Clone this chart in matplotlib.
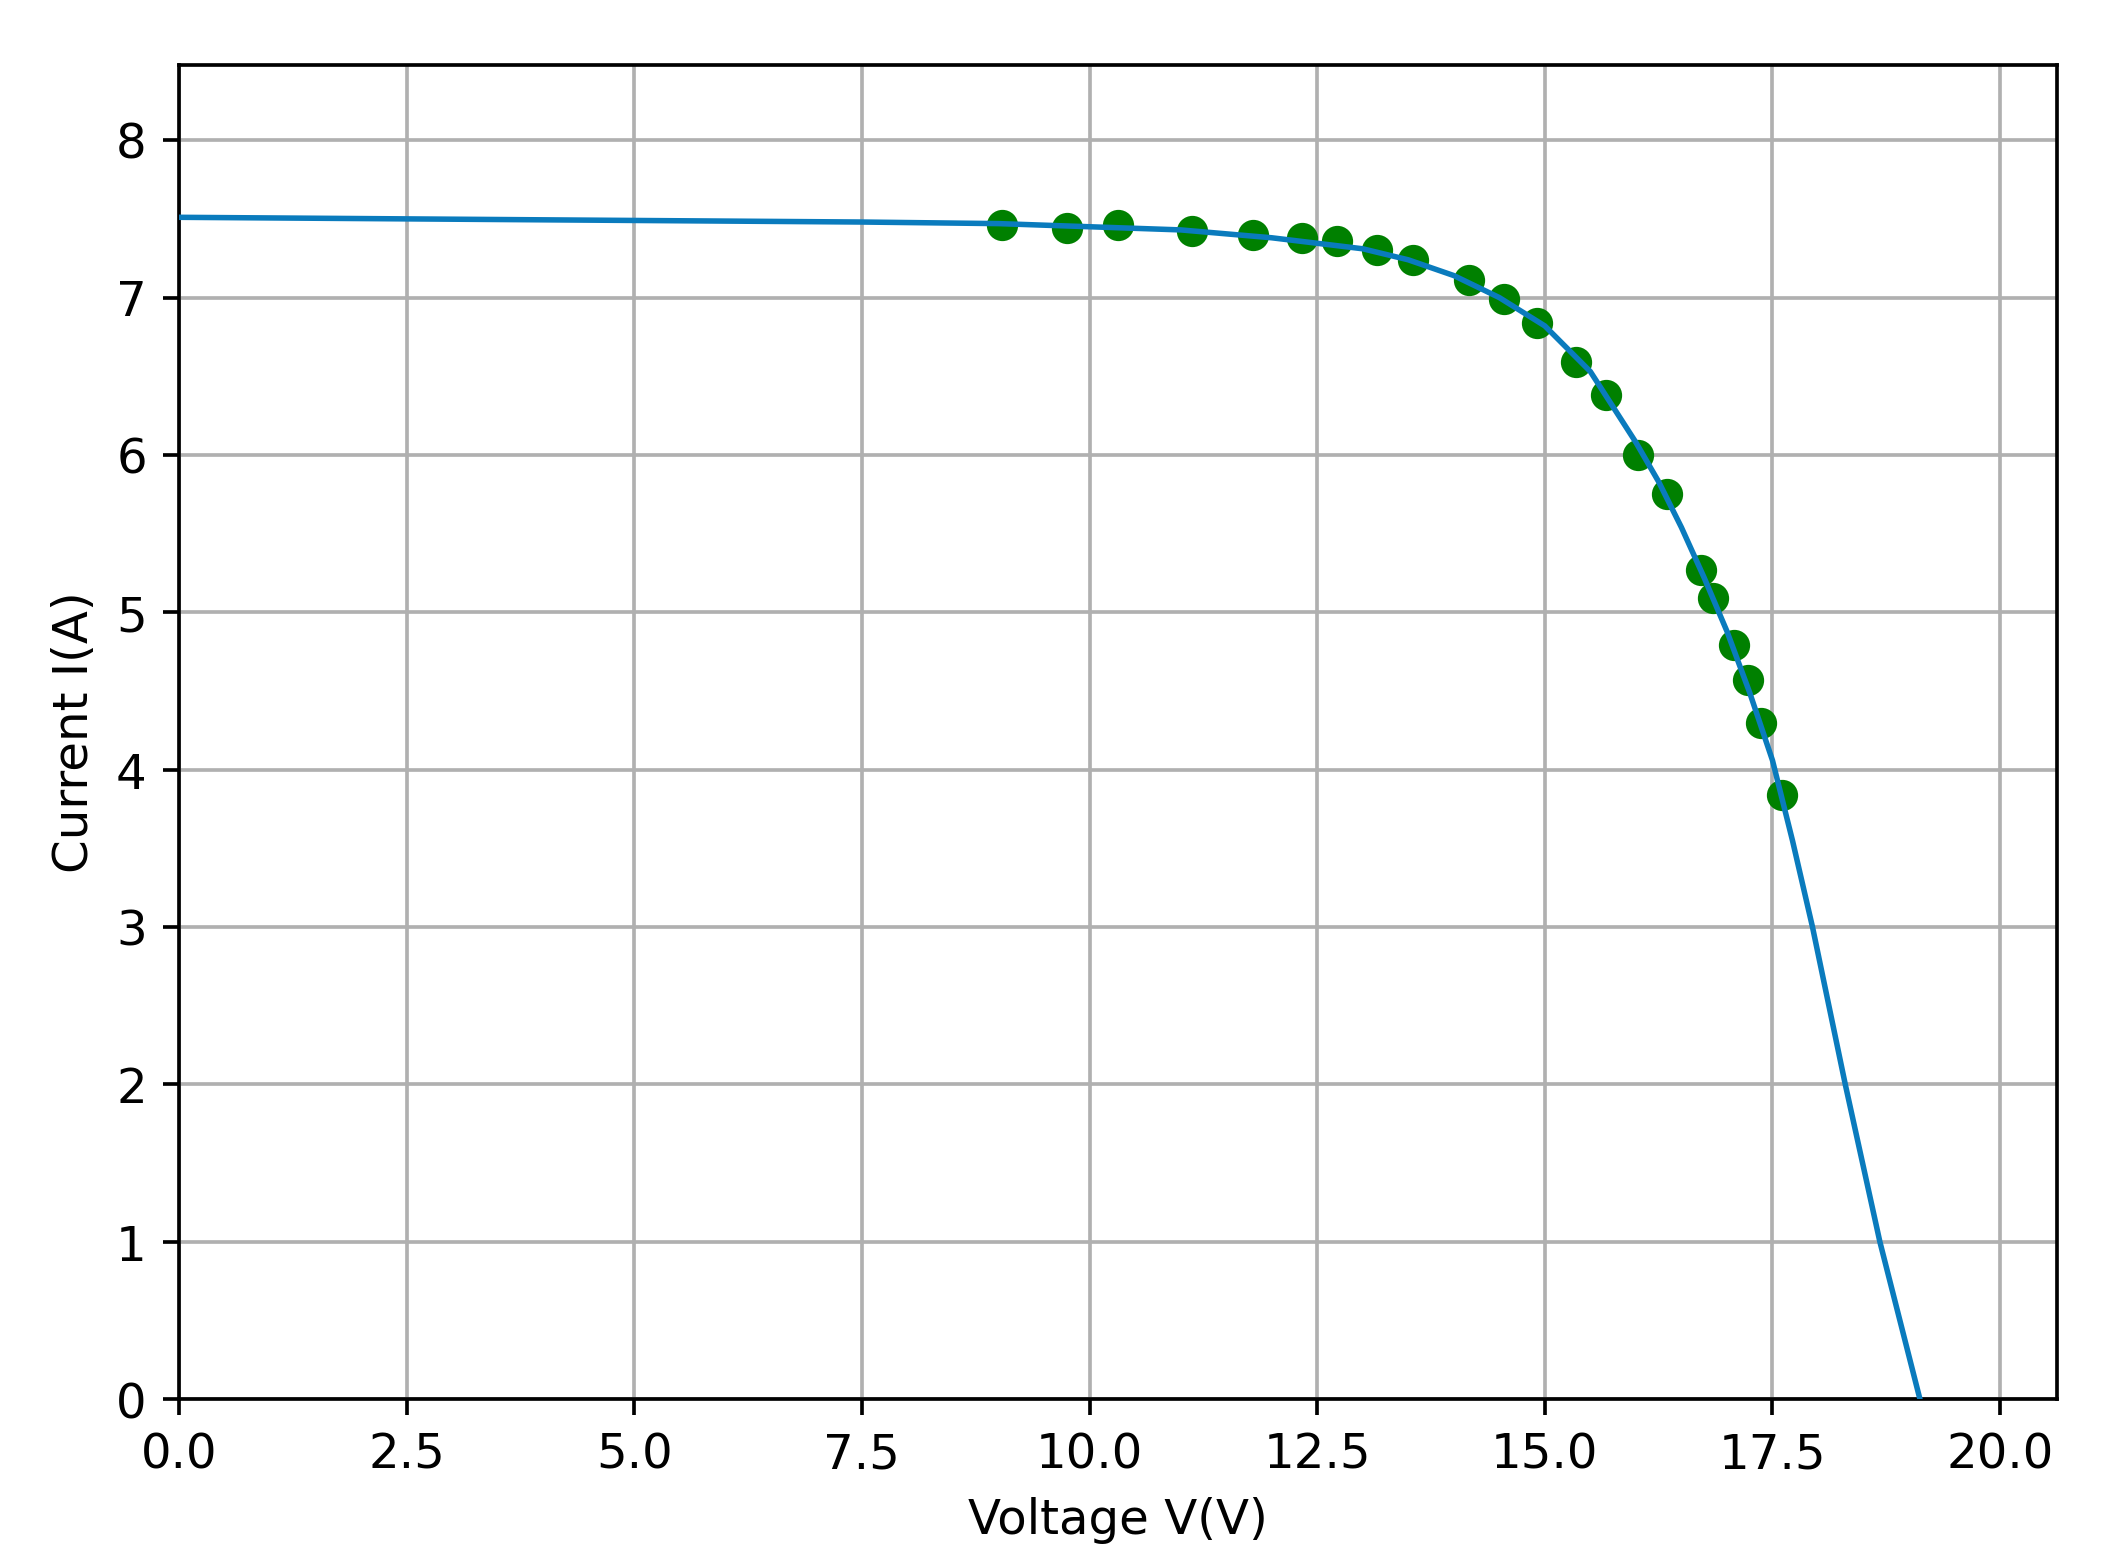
import matplotlib
matplotlib.use("Agg")
import matplotlib.pyplot as plt

# fitted I-V curve
curve_v = [0.0, 2.5, 5.0, 7.5, 9.0, 10.0, 11.0, 12.0, 13.0, 13.5, 14.0, 14.5, 15.0,
           15.5, 16.0, 16.25, 16.5, 16.75, 17.0, 17.25, 17.5, 17.72, 17.94, 18.3, 18.68, 19.12]
curve_i = [7.51, 7.50, 7.49, 7.48, 7.47, 7.45, 7.43, 7.38, 7.31, 7.24, 7.14, 7.00, 6.82,
           6.53, 6.08, 5.83, 5.54, 5.22, 4.88, 4.49, 4.06, 3.55, 3.0, 2.0, 1.0, 0.0]

# measured points
meas_v = [9.04, 9.75, 10.31, 11.13, 11.80, 12.33, 12.72, 13.16, 13.55, 14.17, 14.55,
          14.91, 15.34, 15.67, 16.02, 16.34, 16.72, 16.85, 17.08, 17.23, 17.37, 17.61]
meas_i = [7.46, 7.44, 7.46, 7.42, 7.40, 7.38, 7.36, 7.30, 7.24, 7.11, 6.99,
          6.84, 6.59, 6.38, 6.00, 5.75, 5.27, 5.09, 4.79, 4.57, 4.30, 3.84]

fig = plt.figure(figsize=(6.4, 4.738), dpi=331)
ax = fig.add_axes([0.0845, 0.1076, 0.8863, 0.851])
ax.plot(meas_v, meas_i, 'o', color='green', markersize=5.8, zorder=3)
ax.plot(curve_v, curve_i, color='#0a7bbd', linewidth=1.2, zorder=4)
ax.set_xlim(0, 20.62)
ax.set_ylim(0, 8.48)
ax.set_xticks([0, 2.5, 5, 7.5, 10, 12.5, 15, 17.5, 20])
ax.grid(True)
ax.tick_params(labelsize=10.5)
ax.set_xlabel('Voltage V(V)', fontsize=10.5)
ax.set_ylabel('Current I(A)', fontsize=10.5)
fig.savefig('out.png')
